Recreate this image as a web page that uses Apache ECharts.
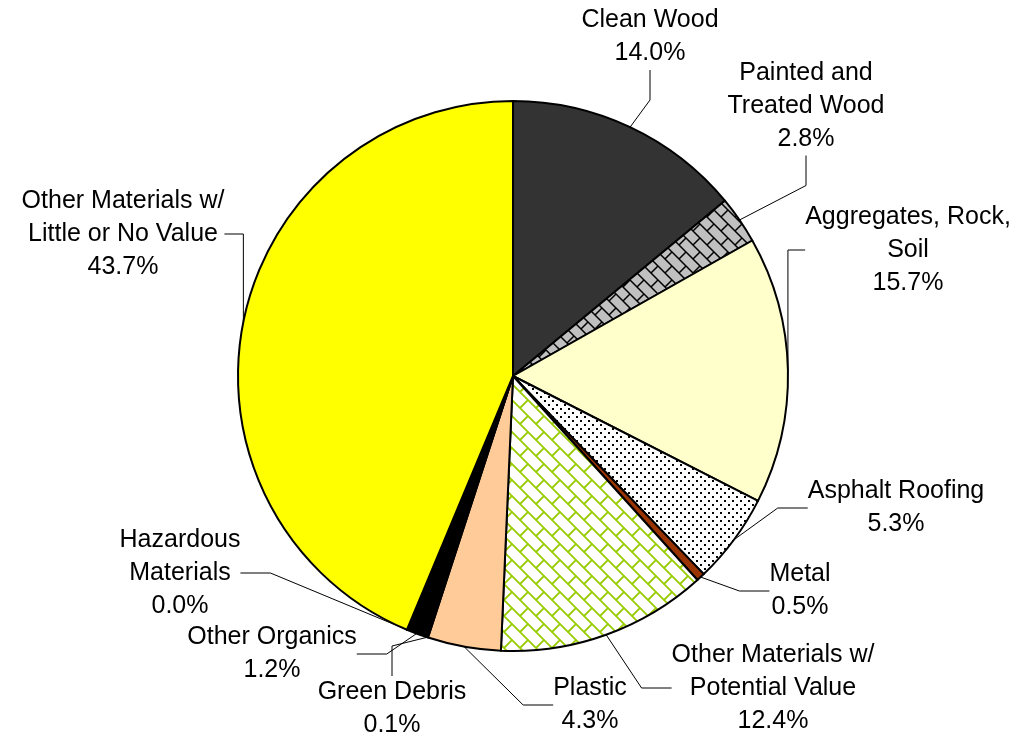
<!DOCTYPE html>
<html>
<head>
<meta charset="utf-8">
<script src="https://cdn.jsdelivr.net/npm/echarts@6/dist/echarts.min.js"></script>
<style>
  html, body { margin: 0; padding: 0; background: #fff; }
  #chart { width: 1019px; height: 738px; }
</style>
</head>
<body>
<div id="chart"></div>
<script>
const categories = [
  'Clean Wood',
  'Painted and\nTreated Wood',
  'Aggregates, Rock,\nSoil',
  'Asphalt Roofing',
  'Metal',
  'Other Materials w/\nPotential Value',
  'Plastic',
  'Green Debris',
  'Other Organics',
  'Hazardous\nMaterials',
  'Other Materials w/\nLittle or No Value'
]
const values = [14.0, 2.8, 15.7, 5.3, 0.5, 12.4, 4.3, 0.1, 1.2, 0.0, 43.7]

// label centres (px), same order as categories
const labelPos = [
  [650, 37], [806, 106], [908, 250], [896, 508], [800, 591],
  [773, 688], [590, 705], [392, 709], [272, 654], [180, 573], [123, 234]
]

function makeTile(size, bg, draw) {
  const c = document.createElement('canvas')
  c.width = size
  c.height = size
  const ctx = c.getContext('2d')
  ctx.fillStyle = bg
  ctx.fillRect(0, 0, size, size)
  draw(ctx)
  return c
}

// diagonal brick pattern; tile size t
function brick(t, bg, fg, lw) {
  return makeTile(t, bg, ctx => {
    const h = t / Math.SQRT2
    const w = 2 * h
    ctx.strokeStyle = fg
    ctx.lineWidth = lw
    ctx.rotate(Math.PI / 4)
    ctx.beginPath()
    for (let k = -6; k <= 6; k++) {
      ctx.moveTo(-80, k * h)
      ctx.lineTo(80, k * h)
      for (let j = -6; j <= 6; j++) {
        const x = j * w + ((k % 2 + 2) % 2) * w / 2
        ctx.moveTo(x, k * h)
        ctx.lineTo(x, (k + 1) * h)
      }
    }
    ctx.stroke()
  })
}

const dots = makeTile(8, '#ffffff', ctx => {
  ctx.fillStyle = '#000'
  ctx.fillRect(0, 0, 2, 2)
  ctx.fillRect(4, 4, 2, 2)
})

const fills = [
  '#333333',
  { image: brick(14, '#c0c0c0', '#000000', 1.5), repeat: 'repeat' },
  '#ffffcc',
  { image: dots, repeat: 'repeat' },
  '#993300',
  { image: brick(16, '#ffffff', '#99cc00', 1.8), repeat: 'repeat' },
  '#ffcc99',
  '#339933',
  '#000000',
  '#ff0000',
  '#ffff00'
]

const chart = echarts.init(document.getElementById('chart'), null, { renderer: 'canvas' })
chart.setOption({
  animation: false,
  series: [{
    type: 'pie',
    center: [513, 376],
    radius: 275,
    startAngle: 90,
    clockwise: true,
    minAngle: 0,
    avoidLabelOverlap: false,
    stillShowZeroSum: true,
    itemStyle: {
      borderColor: '#000',
      borderWidth: 2
    },
    label: {
      show: true,
      color: '#000',
      fontFamily: 'Liberation Sans, Arial, sans-serif',
      fontSize: 25,
      lineHeight: 33,
      align: 'center',
      formatter: p => p.name + '\n' + p.value.toFixed(1) + '%'
    },
    labelLine: {
      show: true,
      lineStyle: { color: '#000', width: 1 }
    },
    labelLayout: params => {
      const pos = labelPos[params.dataIndex]
      return { x: pos[0], y: pos[1], align: 'center', verticalAlign: 'middle' }
    },
    emphasis: { disabled: true },
    data: categories.map((name, i) => ({
      name: name,
      value: values[i],
      itemStyle: { color: fills[i] }
    }))
  }]
})
</script>
</body>
</html>
